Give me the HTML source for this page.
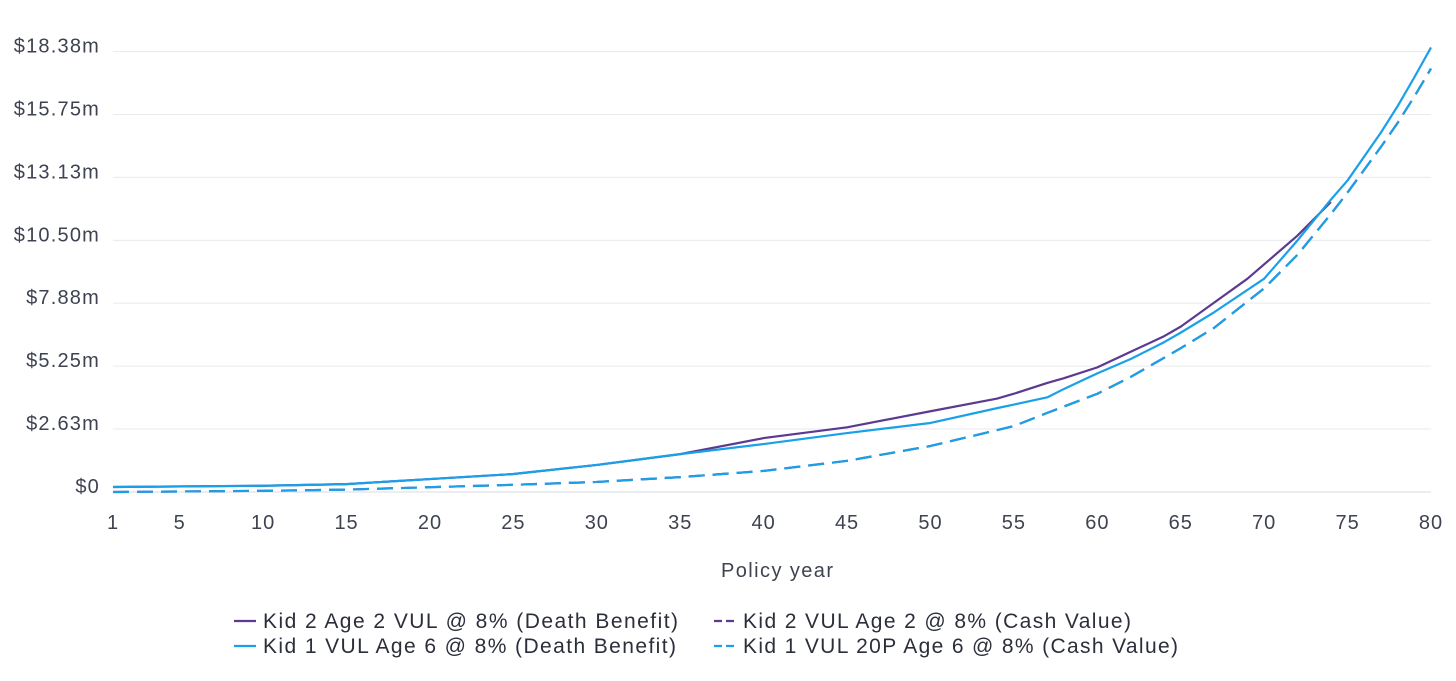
<!DOCTYPE html>
<html><head><meta charset="utf-8"><style>
body{margin:0;background:#fff;}
svg text{font-family:"Liberation Sans",sans-serif;}
</style></head><body>
<svg id="chart" width="1456" height="676" xmlns="http://www.w3.org/2000/svg">
<g id="grid"></g>
<g id="yticks"></g>
<g id="xticks"></g>
<g id="series"></g>
<text x="777" y="577" text-anchor="middle" font-size="20" fill="#3d4350" textLength="112">Policy year</text>
<g font-size="21" fill="#2b2f3a">
 <g><line x1="234" y1="621" x2="256" y2="621" stroke="#5b3a8f" stroke-width="2.2"/><text x="263" y="628" textLength="415">Kid 2 Age 2 VUL @ 8% (Death Benefit)</text></g>
 <g><line x1="714" y1="621" x2="736" y2="621" stroke="#5b3a8f" stroke-width="2.2" stroke-dasharray="8,4"/><text x="743" y="628" textLength="388">Kid 2 VUL Age 2 @ 8% (Cash Value)</text></g>
 <g><line x1="234" y1="646" x2="256" y2="646" stroke="#1aa0e8" stroke-width="2.2"/><text x="263" y="653" textLength="413">Kid 1 VUL Age 6 @ 8% (Death Benefit)</text></g>
 <g><line x1="714" y1="646" x2="736" y2="646" stroke="#1aa0e8" stroke-width="2.2" stroke-dasharray="8,4"/><text x="743" y="653" textLength="435">Kid 1 VUL 20P Age 6 @ 8% (Cash Value)</text></g>
</g>
</svg>
<script>
const yTickVals=[0,2.63,5.25,7.88,10.50,13.13,15.75,18.38];
const yTickLabels=["$0","$2.63m","$5.25m","$7.88m","$10.50m","$13.13m","$15.75m","$18.38m"];
const xTickVals=[1,5,10,15,20,25,30,35,40,45,50,55,60,65,70,75,80];
const kid1DbYears=[1,10,15,20,25,30,35,40,45,50,54,55,57,58,60,62,64,65,67,70,72,74,75,77,78,79,80];
const kid1DbVals=[0.21,0.26,0.33,0.54,0.75,1.13,1.58,2.0,2.46,2.88,3.5,3.65,3.95,4.3,4.95,5.55,6.25,6.65,7.5,8.9,10.5,12.2,13.0,15.0,16.1,17.3,18.55];
const kid2DbYears=[1,10,15,20,25,30,35,40,45,50,54,55,57,58,60,62,64,65,67,69,70,72,74];
const kid2DbVals=[0.21,0.26,0.33,0.54,0.75,1.13,1.58,2.25,2.7,3.37,3.9,4.1,4.55,4.75,5.2,5.85,6.5,6.9,7.9,8.9,9.5,10.7,12.1];
const kid1CvYears=[1,10,15,20,25,30,35,40,45,50,55,57,60,62,65,67,70,72,74,75,77,78,79,80];
const kid1CvVals=[0.0,0.05,0.1,0.2,0.3,0.42,0.62,0.88,1.3,1.92,2.75,3.3,4.1,4.8,6.0,6.85,8.5,9.9,11.6,12.5,14.4,15.4,16.5,17.67];
const kid2CvYears=kid1CvYears;
const kid2CvVals=[0.0,0.05,0.1,0.2,0.3,0.42,0.62,0.88,1.3,1.92,2.75,3.3,4.1,4.8,6.0,6.85,8.5,9.9,11.6,12.5,14.4,15.4,16.5,17.67];
const X0=113,X1=1431,Y0=492,Y1=51.5,YMAX=18.38;
const xs=v=>X0+(v-1)/(80-1)*(X1-X0);
const ys=v=>Y0-(v/YMAX)*(Y0-Y1);
const NS="http://www.w3.org/2000/svg";
const grid=document.getElementById('grid'),yt=document.getElementById('yticks'),xt=document.getElementById('xticks'),ser=document.getElementById('series');
yTickVals.forEach((v,i)=>{
 const l=document.createElementNS(NS,'line');
 l.setAttribute('x1',X0);l.setAttribute('x2',X1);l.setAttribute('y1',ys(v));l.setAttribute('y2',ys(v));
 l.setAttribute('stroke',i==0?'#d8dbe0':'#e8eaee');l.setAttribute('stroke-width','1');
 
 
 grid.appendChild(l);
 const t=document.createElementNS(NS,'text');
 t.setAttribute('x',100);t.setAttribute('y',ys(v)+1);t.setAttribute('text-anchor','end');t.setAttribute('font-size','20');t.setAttribute('fill','#3d4350');t.setAttribute('letter-spacing','1.2');
 t.textContent=yTickLabels[i];
 
 
 yt.appendChild(t);
});
xTickVals.forEach(v=>{
 const t=document.createElementNS(NS,'text');
 t.setAttribute('x',xs(v));t.setAttribute('y',529);t.setAttribute('text-anchor','middle');t.setAttribute('font-size','20');t.setAttribute('fill','#3d4350');t.setAttribute('letter-spacing','1');
 t.textContent=v;
 
 
 xt.appendChild(t);
});
function draw(years,vals,color,dash,name){
 const p=document.createElementNS(NS,'polyline');
 p.setAttribute('points',years.map((y,i)=>xs(y)+','+ys(vals[i])).join(' '));
 p.setAttribute('fill','none');p.setAttribute('stroke',color);p.setAttribute('stroke-width','2.2');p.setAttribute('stroke-linejoin','round');
 if(dash)p.setAttribute('stroke-dasharray',dash);
 
 
 ser.appendChild(p);
}
draw(kid2CvYears,kid2CvVals,'#5b3a8f','16,8','kid2-cash-value-line');
draw(kid1CvYears,kid1CvVals,'#1aa0e8','16,8','kid1-cash-value-line');
draw(kid2DbYears,kid2DbVals,'#5b3a8f',null,'kid2-death-benefit-line');
draw(kid1DbYears,kid1DbVals,'#1aa0e8',null,'kid1-death-benefit-line');
</script>
</body></html>
